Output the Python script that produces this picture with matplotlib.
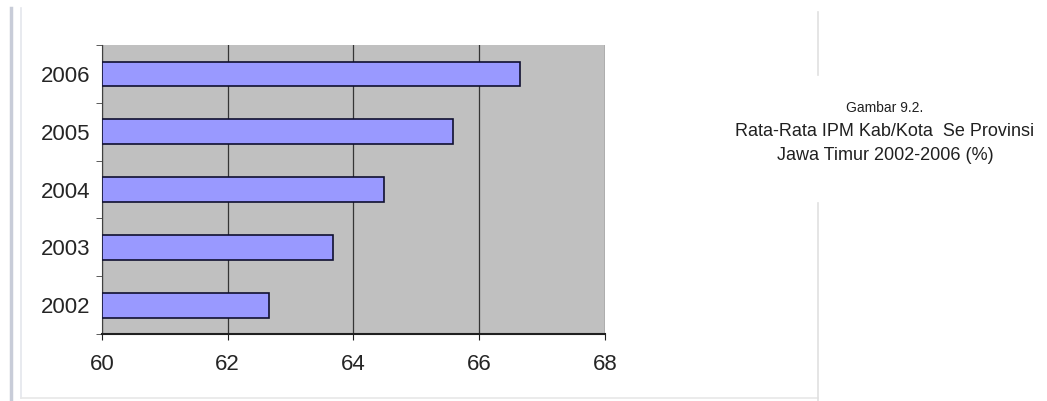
import matplotlib.pyplot as plt
from matplotlib.lines import Line2D

years = ['2002', '2003', '2004', '2005', '2006']
ipm = [62.65, 63.67, 64.48, 65.59, 66.65]
xticks = [60, 62, 64, 66, 68]

title_lines = ['Gambar 9.2.', 'Rata-Rata IPM Kab/Kota  Se Provinsi', 'Jawa Timur 2002-2006 (%)']

plt.rcParams['font.family'] = ['Liberation Sans', 'DejaVu Sans']

fig = plt.figure(figsize=(10.47, 4.01), dpi=100)
ax = fig.add_axes([0.0974, 0.167, 0.4804, 0.7207])

pos = list(range(len(years)))
ax.barh(pos, [v - 60 for v in ipm], left=60, height=0.43,
        color='#9999ff', edgecolor='#101030', linewidth=1.2, zorder=3)

ax.set_facecolor('#c0c0c0')
ax.set_xlim(60, 68)
ax.set_ylim(-0.5, len(years) - 0.5)
ax.set_xticks(xticks)
ax.set_xticklabels([str(t) for t in xticks], fontsize=16, color='#252525')
ax.set_yticks(pos)
ax.set_yticklabels(years, fontsize=16, color='#252525')
ax.set_yticks([p - 0.5 for p in pos] + [len(years) - 0.5], minor=True)
ax.tick_params(axis='y', which='major', length=0, pad=8)
ax.tick_params(axis='y', which='minor', length=4, direction='out', color='#404040')
ax.tick_params(axis='x', length=4.5, direction='out', pad=10, color='#202020')
ax.grid(axis='x', color='#353535', linewidth=0.9, zorder=1)
ax.set_axisbelow(True)
for s in ['top', 'right']:
    ax.spines[s].set_visible(False)
ax.spines['left'].set_color('#404040')
ax.spines['bottom'].set_color('#202020')
ax.spines['bottom'].set_linewidth(1.5)

# surrounding frame lines
W, H = 1047, 401
def fl(x0, y0, x1, y1, c, lw):
    fig.add_artist(Line2D([x0 / W, x1 / W], [1 - y0 / H, 1 - y1 / H],
                          color=c, linewidth=lw, transform=fig.transFigure))
fl(11, 8, 11, 401, '#c8ccd8', 2.5)
fl(21, 8, 21, 398, '#e4e6ec', 1.2)
fl(21, 398, 818, 398, '#e8e8e8', 1.2)
fl(818, 12, 818, 75, '#e0e0e0', 1.2)
fl(818, 203, 818, 401, '#e0e0e0', 1.2)

ys = [108, 132, 156]
sizes = [10, 13, 13]
for t, y, s in zip(title_lines, ys, sizes):
    fig.text(885 / W, 1 - y / H, t, ha='center', va='center', fontsize=s, color='#202020')

fig.savefig('out.png', dpi=100)
